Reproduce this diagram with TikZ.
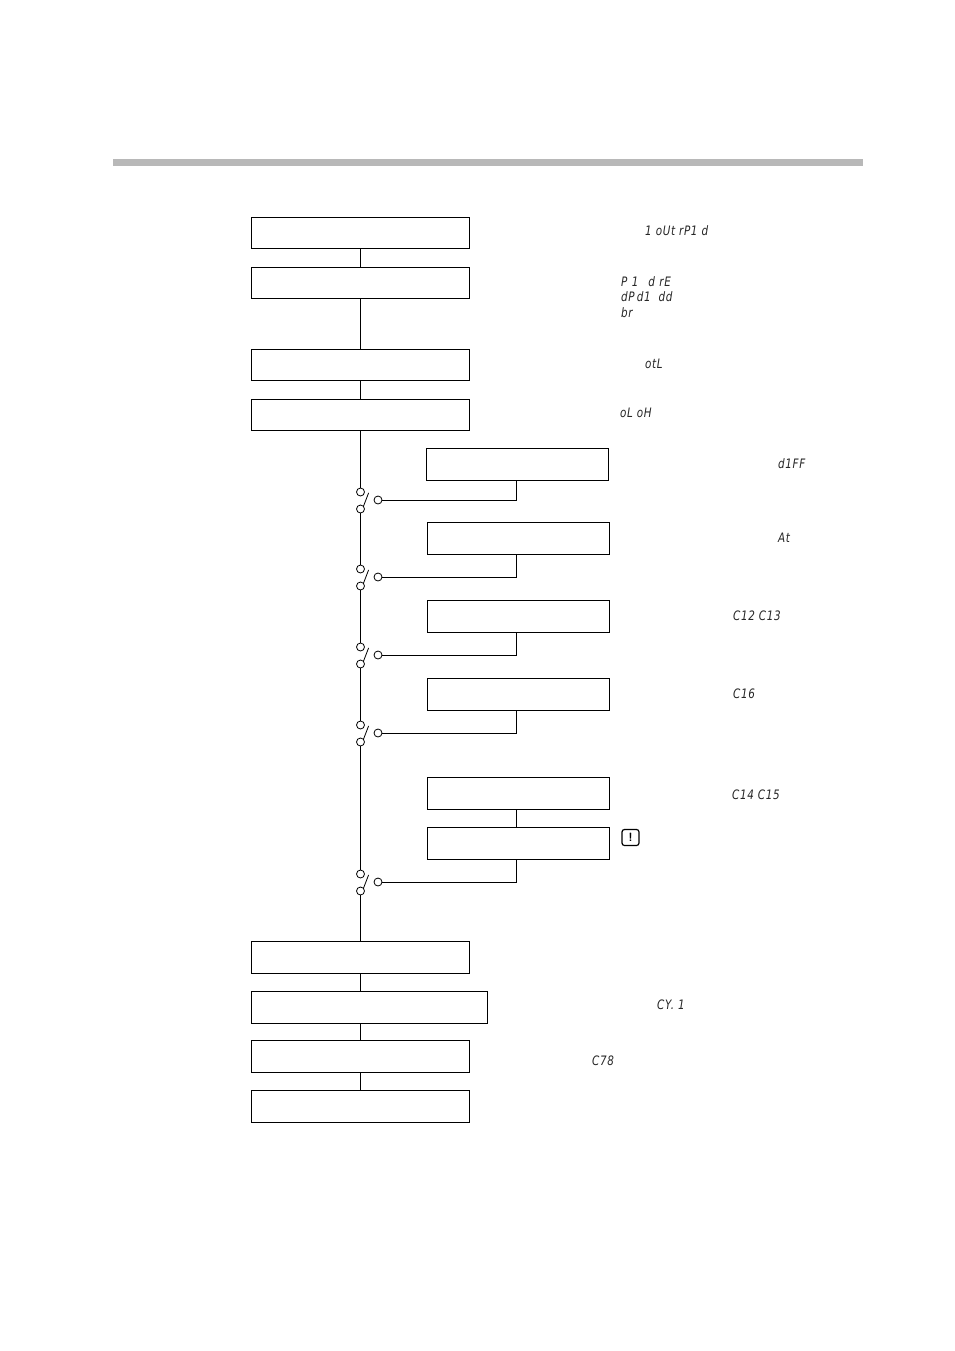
\documentclass[tikz,border=0pt]{standalone}
\usepackage{fontspec}
\newfontfamily\segfont[LetterSpace=5,FakeStretch=0.8]{DejaVu Sans}
\usetikzlibrary{positioning}
\tikzset{
  longbox/.style={draw,anchor=north west,minimum width=218.5pt,minimum height=31.5pt,inner sep=0pt,line width=1pt},
  sidebox/.style={draw,anchor=north west,minimum width=182.5pt,minimum height=32.5pt,inner sep=0pt,line width=1pt},
  contact/.style={draw,circle,fill=white,minimum size=8pt,inner sep=0pt,line width=0.8pt},
  seglabel/.style={anchor=west,inner sep=0pt,text=black!85,font=\segfont\itshape\fontsize{13pt}{14pt}\selectfont},
  wire/.style={line width=1pt},
  warnbox/.style={draw,rounded corners=2.5pt,minimum width=17pt,minimum height=16pt,inner sep=0pt,line width=1.2pt,font=\sffamily\bfseries\fontsize{12pt}{12pt}\selectfont}
}
\begin{document}
\begin{tikzpicture}[x=1pt,y=-1pt]
\useasboundingbox (0,0) rectangle (954,1351);
\fill[black!28] (113,159) rectangle (863,166);
\node[longbox] (b1) at (250.5,216.5) {};
\node[longbox] (b2) at (250.5,266.5) {};
\node[longbox] (b3) at (250.5,348.5) {};
\node[longbox] (b4) at (250.5,398.5) {};
\node[sidebox] (s1) at (425.5,447.5) {};
\node[sidebox] (s2) at (426.5,521.5) {};
\node[sidebox] (s3) at (426.5,599.5) {};
\node[sidebox] (s4) at (426.5,677.5) {};
\node[sidebox] (s5) at (426.5,776.5) {};
\node[sidebox] (s6) at (426.5,826.5) {};
\node[longbox,minimum height=32.5pt] (b5) at (250.5,940.5) {};
\node[longbox,minimum height=32.5pt,minimum width=236.5pt] (b6) at (250.5,990.5) {};
\node[longbox,minimum height=32.5pt] (b7) at (250.5,1039.5) {};
\node[longbox,minimum height=32.5pt] (b8) at (250.5,1089.5) {};
\node[contact] (t1) at (360.5,492) {};\node[contact] (u1) at (360.5,509) {};\node[contact] (r1) at (378,500) {};
\node[contact] (t2) at (360.5,569) {};\node[contact] (u2) at (360.5,586) {};\node[contact] (r2) at (378,577) {};
\node[contact] (t3) at (360.5,647) {};\node[contact] (u3) at (360.5,664) {};\node[contact] (r3) at (378,655) {};
\node[contact] (t4) at (360.5,725) {};\node[contact] (u4) at (360.5,742) {};\node[contact] (r4) at (378,733) {};
\node[contact] (t5) at (360.5,874) {};\node[contact] (u5) at (360.5,891) {};\node[contact] (r5) at (378,882) {};
\draw[wire] (b1.south -| t1) -- (b2.north -| t1);
\draw[wire] (b2.south -| t1) -- (b3.north -| t1);
\draw[wire] (b3.south -| t1) -- (b4.north -| t1);
\draw[wire] (b4.south -| t1) -- (t1);
\draw[wire] (u1) -- (t2);
\draw[wire] (u2) -- (t3);
\draw[wire] (u3) -- (t4);
\draw[wire] (u4) -- (t5);
\draw[wire] (u5) -- (b5.north -| t1);
\draw[wire] (b5.south -| t1) -- (b6.north -| t1);
\draw[wire] (b6.south -| t1) -- (b7.north -| t1);
\draw[wire] (b7.south -| t1) -- (b8.north -| t1);
\draw[wire] (r1) -| ([xshift=-1pt]s1.south);
\draw[wire] (r2) -| ([xshift=-2pt]s2.south);
\draw[wire] (r3) -| ([xshift=-2pt]s3.south);
\draw[wire] (r4) -| ([xshift=-2pt]s4.south);
\draw[wire] ([xshift=-2pt]s5.south) -- ([xshift=-2pt]s6.north);
\draw[wire] (r5) -| ([xshift=-2pt]s6.south);
\draw[line width=0.8pt] (u1.north east) -- ++(5,-13);
\draw[line width=0.8pt] (u2.north east) -- ++(5,-13);
\draw[line width=0.8pt] (u3.north east) -- ++(5,-13);
\draw[line width=0.8pt] (u4.north east) -- ++(5,-13);
\draw[line width=0.8pt] (u5.north east) -- ++(5,-13);
\node[warnbox] (warn) at (630.5,837.5) {!};
\node[seglabel] (l1) at (645,231) {1 oUt rP1 d};
\node[seglabel] (l2) at (621,282) {P\,\,1 \ \,d\,\,rE};
\node[seglabel] (l3) at (621,297) {dP\,d1 \ dd};
\node[seglabel] (l4) at (621,313) {br};
\node[seglabel] (l5) at (645,364) {otL};
\node[seglabel] (l6) at (620,413) {oL oH};
\node[seglabel] (l7) at (778,464) {d1FF};
\node[seglabel] (l8) at (778,538) {At};
\node[seglabel] (l9) at (733,616) {C12 C13};
\node[seglabel] (l10) at (733,694) {C16};
\node[seglabel] (l11) at (732,795) {C14 C15};
\node[seglabel] (l12) at (657,1005) {CY. 1};
\node[seglabel] (l13) at (592,1061) {C78};
\end{tikzpicture}
\end{document}
